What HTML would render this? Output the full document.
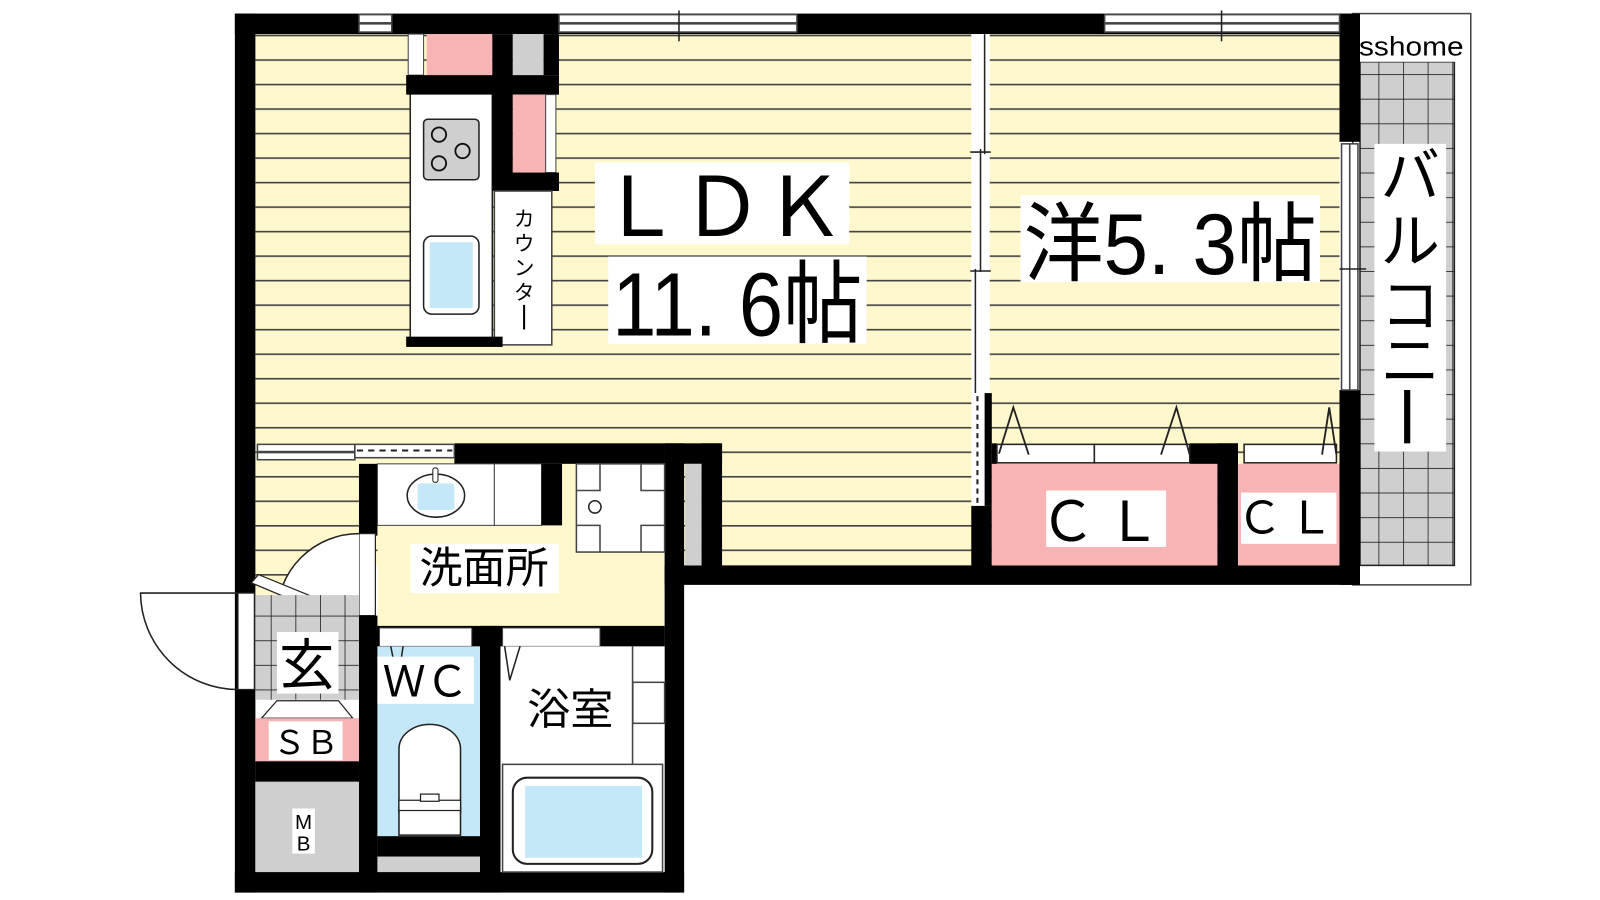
<!DOCTYPE html>
<html><head><meta charset="utf-8"><style>
html,body{margin:0;padding:0;background:#fff;}
svg{display:block;}
text{font-family:"Liberation Sans","Noto Sans CJK JP",sans-serif;fill:#000;}
</style></head><body>
<svg width="1600" height="900" viewBox="0 0 1560 877" xmlns="http://www.w3.org/2000/svg">
<defs>
<pattern id="st" x="0" y="57.5" width="10" height="23.9" patternUnits="userSpaceOnUse">
<rect width="10" height="23.9" fill="#fff8cc"/><rect y="0" width="10" height="1.6" fill="#444"/>
</pattern>
<pattern id="tile" x="0" y="0" width="24" height="24" patternUnits="userSpaceOnUse">
<rect width="24" height="24" fill="#cfcfcf"/><path d="M0 0H24M0 0V24" stroke="#222" stroke-width="1.6"/>
</pattern>
</defs>
<!-- balcony -->
<rect x="1319" y="13" width="115" height="557" fill="#fff" stroke="#444" stroke-width="1.5"/>
<rect x="1326" y="60" width="92" height="491" fill="url(#tile)" stroke="#222" stroke-width="1.5"/>
<rect x="1323" y="30" width="107" height="30" fill="#fff"/>
<text x="1325" y="54" font-size="26" textLength="102" lengthAdjust="spacingAndGlyphs">sshome</text>
<rect x="1340" y="140" width="70" height="300" fill="#fff"/>
<text x="1375" y="192" font-size="58" text-anchor="middle">バ</text>
<text x="1375" y="255" font-size="58" text-anchor="middle">ル</text>
<text x="1375" y="318" font-size="58" text-anchor="middle">コ</text>
<text x="1375" y="372" font-size="58" text-anchor="middle">ニ</text>
<rect x="1369" y="380" width="6" height="52" fill="#000"/>

<!-- floors -->
<rect x="249" y="33" width="700" height="518" fill="url(#st)"/>
<rect x="962" y="33" width="344" height="518" fill="url(#st)"/>
<rect x="249" y="452" width="101" height="128" fill="url(#st)"/>
<rect x="368" y="452" width="280" height="158" fill="#fff8cc"/>

<!-- outer walls -->
<rect x="229" y="13" width="1097" height="20" fill="#000"/>
<rect x="229" y="13" width="20" height="857" fill="#000"/>
<rect x="1306" y="13" width="20" height="125" fill="#000"/>
<rect x="1306" y="380" width="20" height="190" fill="#000"/>
<rect x="648" y="551" width="678" height="19" fill="#000"/>
<rect x="229" y="850" width="438" height="20" fill="#000"/>
<rect x="648" y="432" width="19" height="438" fill="#000"/>
<rect x="648" y="432" width="56" height="20" fill="#000"/>
<rect x="684" y="432" width="20" height="130" fill="#000"/>
<rect x="668" y="452" width="16" height="99" fill="#cfcfcf"/>
<rect x="443" y="432" width="205" height="20" fill="#000"/>

<!-- windows top -->
<g fill="#fff" stroke="#444" stroke-width="1.5">
<rect x="350" y="14" width="32" height="8"/><rect x="350" y="23" width="32" height="8"/>
<rect x="545" y="14" width="232" height="8"/><rect x="545" y="23" width="232" height="8"/>
<rect x="1077" y="14" width="229" height="8"/><rect x="1077" y="23" width="229" height="8"/>
<rect x="1308" y="140" width="8" height="240"/><rect x="1316" y="140" width="8" height="240"/>
<rect x="251" y="433" width="95" height="7"/><rect x="251" y="441" width="95" height="7"/>
<rect x="346" y="433" width="97" height="13"/>
</g>
<line x1="662" y1="10" x2="662" y2="40" stroke="#222" stroke-width="1.5"/>
<line x1="1191" y1="10" x2="1191" y2="40" stroke="#222" stroke-width="1.5"/>
<line x1="1306" y1="262" x2="1332" y2="262" stroke="#222" stroke-width="1.5"/>
<line x1="348" y1="439" x2="441" y2="439" stroke="#222" stroke-width="2" stroke-dasharray="6,5"/>

<!-- LDK / 洋 partition -->
<rect x="947" y="33" width="18" height="350" fill="#fff"/>
<line x1="960" y1="33" x2="960" y2="150" stroke="#222" stroke-width="1.5"/>
<line x1="956" y1="145" x2="956" y2="265" stroke="#222" stroke-width="1.5"/>
<line x1="951" y1="262" x2="951" y2="383" stroke="#222" stroke-width="1.5"/>
<line x1="946" y1="148" x2="966" y2="148" stroke="#222" stroke-width="1.5"/>
<line x1="946" y1="264" x2="966" y2="264" stroke="#222" stroke-width="1.5"/>
<rect x="947" y="383" width="13" height="110" fill="#fff"/>
<rect x="960" y="383" width="7" height="110" fill="#000"/>
<line x1="953" y1="386" x2="953" y2="490" stroke="#222" stroke-width="2" stroke-dasharray="5,4"/>
<rect x="947" y="493" width="20" height="60" fill="#000"/>

<!-- closets -->
<rect x="967" y="452" width="220" height="99" fill="#f8b4b4"/>
<rect x="1207" y="452" width="99" height="99" fill="#f8b4b4"/>
<rect x="1187" y="432" width="20" height="120" fill="#000"/>
<rect x="1160" y="432" width="47" height="20" fill="#000"/>
<rect x="967" y="432" width="5" height="20" fill="#000"/>
<g fill="#fff" stroke="#222" stroke-width="1.5">
<rect x="972" y="433" width="95" height="18"/><rect x="1067" y="433" width="93" height="18"/>
<rect x="1213" y="433" width="90" height="18"/>
</g>
<g fill="none" stroke="#222" stroke-width="1.8">
<path d="M974 442 L988 397 L1003 443"/><path d="M1132 443 L1147 397 L1160 443"/><path d="M1289 443 L1296 397 L1303 443"/>
</g>
<rect x="1020" y="478" width="117" height="55" fill="#fff"/>
<text x="1078" y="527" font-size="54" text-anchor="middle" letter-spacing="10">ＣＬ</text>
<rect x="1210" y="480" width="93" height="50" fill="#fff"/>
<text x="1256" y="520" font-size="44" text-anchor="middle" letter-spacing="6">ＣＬ</text>

<!-- kitchen -->
<rect x="400" y="90" width="80" height="240" fill="#fff" stroke="#222" stroke-width="1.5"/>
<rect x="413" y="116" width="54" height="59" rx="4" fill="#cfcfcf" stroke="#222" stroke-width="1.5"/>
<g fill="none" stroke="#111" stroke-width="1.8">
<circle cx="428" cy="131" r="7"/><circle cx="451" cy="147" r="7"/><circle cx="428" cy="159" r="7"/>
</g>
<rect x="413" y="230" width="54" height="76" rx="8" fill="#fff" stroke="#222" stroke-width="1.5"/>
<rect x="419" y="236" width="42" height="64" fill="#c4e8f8"/>
<rect x="398" y="33" width="15" height="40" fill="#fff" stroke="#444" stroke-width="1"/>
<rect x="416" y="33" width="64" height="40" fill="#f8b4b4"/>
<rect x="480" y="33" width="20" height="152" fill="#000"/>
<rect x="500" y="33" width="30" height="40" fill="#cfcfcf"/>
<rect x="530" y="33" width="15" height="40" fill="#000"/>
<rect x="396" y="73" width="149" height="19" fill="#000"/>
<rect x="500" y="92" width="32" height="76" fill="#f8b4b4"/>
<rect x="532" y="92" width="10" height="76" fill="#fff" stroke="#444" stroke-width="1"/>
<rect x="480" y="168" width="65" height="18" fill="#000"/>
<rect x="482" y="186" width="56" height="150" fill="#fff" stroke="#444" stroke-width="1.5"/>
<text font-size="20" text-anchor="middle"><tspan x="511" y="220">カ</tspan><tspan x="511" y="244">ウ</tspan><tspan x="511" y="268">ン</tspan><tspan x="511" y="292">タ</tspan></text>
<rect x="510" y="297" width="2" height="24" fill="#000"/>
<rect x="396" y="328" width="94" height="10" fill="#000"/>

<!-- LDK labels -->
<rect x="580" y="158" width="248" height="80" fill="#fff"/>
<text x="704" y="230" font-size="80" text-anchor="middle">ＬＤＫ</text>
<rect x="593" y="250" width="252" height="85" fill="#fff"/>
<text x="597" y="327" font-size="88" textLength="244" lengthAdjust="spacingAndGlyphs">11. 6帖</text>
<rect x="995" y="190" width="292" height="85" fill="#fff"/>
<text x="998" y="267" font-size="84" textLength="286" lengthAdjust="spacingAndGlyphs">洋5. 3帖</text>

<!-- washroom -->
<rect x="350" y="452" width="18" height="70" fill="#000"/>
<rect x="368" y="452" width="114" height="60" fill="#fff" stroke="#444" stroke-width="1"/>
<rect x="482" y="452" width="46" height="60" fill="#fff" stroke="#444" stroke-width="1"/>
<ellipse cx="425" cy="483" rx="28" ry="21" fill="#fff" stroke="#222" stroke-width="1.5"/>
<rect x="407" y="471" width="36" height="26" rx="3" fill="#c4e8f8"/>
<rect x="422" y="456" width="5" height="14" rx="2" fill="#fff" stroke="#222" stroke-width="1"/>
<rect x="528" y="452" width="20" height="60" fill="#000"/>
<rect x="562" y="452" width="86" height="86" fill="#fff" stroke="#444" stroke-width="1.5"/>
<path d="M585 452V478H562M625 452V478H648M585 538V512H562M625 538V512H648" fill="none" stroke="#444" stroke-width="1.5"/>
<circle cx="580" cy="494" r="6" fill="none" stroke="#222" stroke-width="1.5"/>
<rect x="400" y="530" width="145" height="48" fill="#fff"/>
<text x="472" y="568" font-size="42" text-anchor="middle">洗面所</text>

<!-- door into washroom -->
<rect x="350" y="520" width="16" height="80" fill="#fff" stroke="#222" stroke-width="1.2"/>
<path d="M350 520 A80 80 0 0 0 270 600 L350 600" fill="#fff" stroke="#222" stroke-width="1.5"/>
<path d="M245 568 L252 560 L350 600 L345 610 Z" fill="#fff" stroke="#222" stroke-width="1.2"/>

<!-- wall between washroom and WC/bath -->
<rect x="350" y="610" width="298" height="20" fill="#000"/>
<rect x="370" y="612" width="90" height="18" fill="#fff" stroke="#444" stroke-width="1"/>
<rect x="490" y="612" width="95" height="18" fill="#fff" stroke="#444" stroke-width="1"/>
<rect x="350" y="600" width="18" height="270" fill="#000"/>
<rect x="468" y="610" width="20" height="260" fill="#000"/>

<!-- WC -->
<rect x="368" y="630" width="100" height="185" fill="#c4e8f8"/>
<path d="M381 630 L385 650 M393 630 L390 650" stroke="#222" stroke-width="1.5"/>
<rect x="368" y="640" width="94" height="46" fill="#fff"/>
<text x="415" y="679" font-size="42" text-anchor="middle">ＷＣ</text>
<path d="M389 793 V730 A30 24 0 0 1 449 730 V793" fill="#fff" stroke="#222" stroke-width="1.5"/>
<rect x="389" y="787" width="60" height="27" fill="#fff" stroke="#222" stroke-width="1.5"/>
<rect x="389" y="780" width="60" height="10" fill="#fff" stroke="#222" stroke-width="1.2"/>
<rect x="410" y="774" width="18" height="7" fill="#fff" stroke="#222" stroke-width="1.2"/>
<rect x="368" y="815" width="100" height="20" fill="#000"/>
<rect x="368" y="835" width="100" height="15" fill="#cfcfcf"/>

<!-- Bath -->
<rect x="488" y="630" width="160" height="220" fill="#fff"/>
<path d="M492 630 L497 663 L507 630" fill="none" stroke="#222" stroke-width="1.5"/>
<rect x="616" y="630" width="1.5" height="115" fill="#444"/>
<rect x="617" y="665" width="31" height="40" fill="#fff" stroke="#444" stroke-width="1.5"/>
<rect x="490" y="745" width="156" height="105" fill="#fff" stroke="#444" stroke-width="1.5"/>
<rect x="500" y="758" width="136" height="84" rx="14" fill="#fff" stroke="#222" stroke-width="2"/>
<rect x="512" y="766" width="114" height="70" fill="#c4e8f8"/>
<rect x="510" y="668" width="92" height="46" fill="#fff"/>
<text x="556" y="706" font-size="42" text-anchor="middle">浴室</text>

<!-- entry -->
<rect x="249" y="580" width="101" height="102" fill="url(#tile)"/>
<rect x="270" y="616" width="60" height="60" fill="#fff"/>
<text x="299" y="667" font-size="54" text-anchor="middle">玄</text>
<path d="M255 700 L270 683 L330 683 L344 700 Z" fill="#fff" stroke="#222" stroke-width="1.2"/>
<rect x="249" y="700" width="101" height="42" fill="#f8b4b4"/>
<rect x="262" y="703" width="72" height="38" fill="#fff"/>
<text x="298" y="735" font-size="32" text-anchor="middle">ＳＢ</text>
<rect x="249" y="742" width="101" height="20" fill="#000"/>
<rect x="249" y="762" width="101" height="88" fill="#cfcfcf"/>
<rect x="285" y="788" width="22" height="44" fill="#fff"/>
<text x="296" y="808" font-size="20" text-anchor="middle">M</text>
<text x="296" y="829" font-size="20" text-anchor="middle">B</text>
<!-- front door -->
<rect x="232" y="578" width="16" height="94" fill="#fff" stroke="#222" stroke-width="1.2"/>
<path d="M232 578 L137 578 A95 95 0 0 0 232 672" fill="none" stroke="#222" stroke-width="1.5"/>
</svg>
</body></html>
